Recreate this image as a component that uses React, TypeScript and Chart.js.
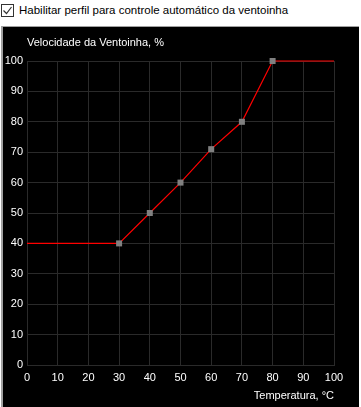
import React, { useEffect, useRef } from "react";
import { Chart, registerables } from "chart.js";

Chart.register(...registerables);

const temps = [0, 30, 40, 50, 60, 70, 80, 100];
const speeds = [40, 40, 50, 60, 71, 80, 100, 100];
const markerRadius = [0, 4.25, 4.25, 4.25, 4.25, 4.25, 4.25, 0];
const xTicks = [0, 10, 20, 30, 40, 50, 60, 70, 80, 90, 100];
const yTicks = [0, 10, 20, 30, 40, 50, 60, 70, 80, 90, 100];

const checkboxLabel = "Habilitar perfil para controle automático da ventoinha";
const yTitle = "Velocidade da Ventoinha, %";
const xTitle = "Temperatura, °C";

const FONT = "'Liberation Sans', Arial, sans-serif";
const GRID = "#2a2a2a";

export default function App() {
  const ref = useRef<HTMLCanvasElement | null>(null);

  useEffect(() => {
    if (!ref.current) return;
    const titlePlugin = {
      id: "yTitleText",
      afterDraw(chart: any) {
        const ctx = chart.ctx;
        ctx.save();
        ctx.fillStyle = "#ffffff";
        ctx.font = `11px ${FONT}`;
        ctx.textAlign = "left";
        ctx.textBaseline = "middle";
        ctx.fillText(yTitle, chart.chartArea.left, 16);
        ctx.restore();
      },
    };
    const chart = new Chart(ref.current, {
      type: "line",
      data: {
        datasets: [
          {
            data: temps.map((t, i) => ({ x: t, y: speeds[i] })),
            borderColor: "#ff0000",
            borderWidth: 1.2,
            pointStyle: "rect",
            pointRadius: markerRadius,
            pointHoverRadius: markerRadius,
            pointBackgroundColor: "#808080",
            pointBorderWidth: 0,
            tension: 0,
            clip: false,
          },
        ],
      },
      options: {
        animation: false,
        responsive: false,
        events: [],
        layout: { padding: { top: 34, right: 25, left: 0, bottom: 0 } },
        plugins: { legend: { display: false }, tooltip: { enabled: false } },
        scales: {
          x: {
            type: "linear",
            min: 0,
            max: 100,
            afterBuildTicks: (s: any) => {
              s.ticks = xTicks.map((v) => ({ value: v }));
            },
            afterFit: (s: any) => {
              s.height = 41;
            },
            ticks: {
              color: "#ffffff",
              font: { family: FONT, size: 11 },
              padding: 6,
              maxRotation: 0,
              autoSkip: false,
            },
            grid: { color: GRID, drawTicks: false },
            border: { color: GRID },
            title: {
              display: true,
              text: xTitle,
              align: "end",
              color: "#ffffff",
              font: { family: FONT, size: 11 },
              padding: { top: 0, bottom: 3 },
            },
          },
          y: {
            type: "linear",
            min: 0,
            max: 100,
            afterBuildTicks: (s: any) => {
              s.ticks = yTicks.map((v) => ({ value: v }));
            },
            afterFit: (s: any) => {
              s.width = 24;
            },
            ticks: {
              color: "#ffffff",
              font: { family: FONT, size: 11 },
              padding: 4,
              autoSkip: false,
            },
            grid: { color: GRID, drawTicks: false },
            border: { color: GRID },
          },
        },
      } as any,
      plugins: [titlePlugin],
    });
    return () => chart.destroy();
  }, []);

  return (
    <div style={{ position: "absolute", left: 0, top: 0, width: 361, height: 407, background: "#fff", fontFamily: FONT }}>
      <div
        style={{
          position: "absolute",
          left: 1,
          top: 4,
          width: 11,
          height: 11,
          border: "1px solid #333",
          background: "#fff",
        }}
      >
        <svg width="11" height="11" style={{ position: "absolute", left: 0, top: 0 }}>
          <polyline points="1.5,5.5 4.5,8.5 9.5,2" fill="none" stroke="#333" strokeWidth="1.2" />
        </svg>
      </div>
      <div
        style={{
          position: "absolute",
          left: 19,
          top: 3,
          fontSize: 11.5,
          lineHeight: "14px",
          color: "#000",
          whiteSpace: "nowrap",
        }}
      >
        {checkboxLabel}
      </div>
      <div
        style={{
          position: "absolute",
          left: 1,
          top: 26,
          width: 358,
          height: 381,
          background: "#000",
          borderTop: "1px solid #a0a0a0",
          borderLeft: "2px solid #a0a0a0",
          boxSizing: "border-box",
        }}
      />
      <canvas
        ref={ref}
        width={356}
        height={379}
        style={{ position: "absolute", left: 3, top: 27, width: 356, height: 379 }}
      />
    </div>
  );
}
